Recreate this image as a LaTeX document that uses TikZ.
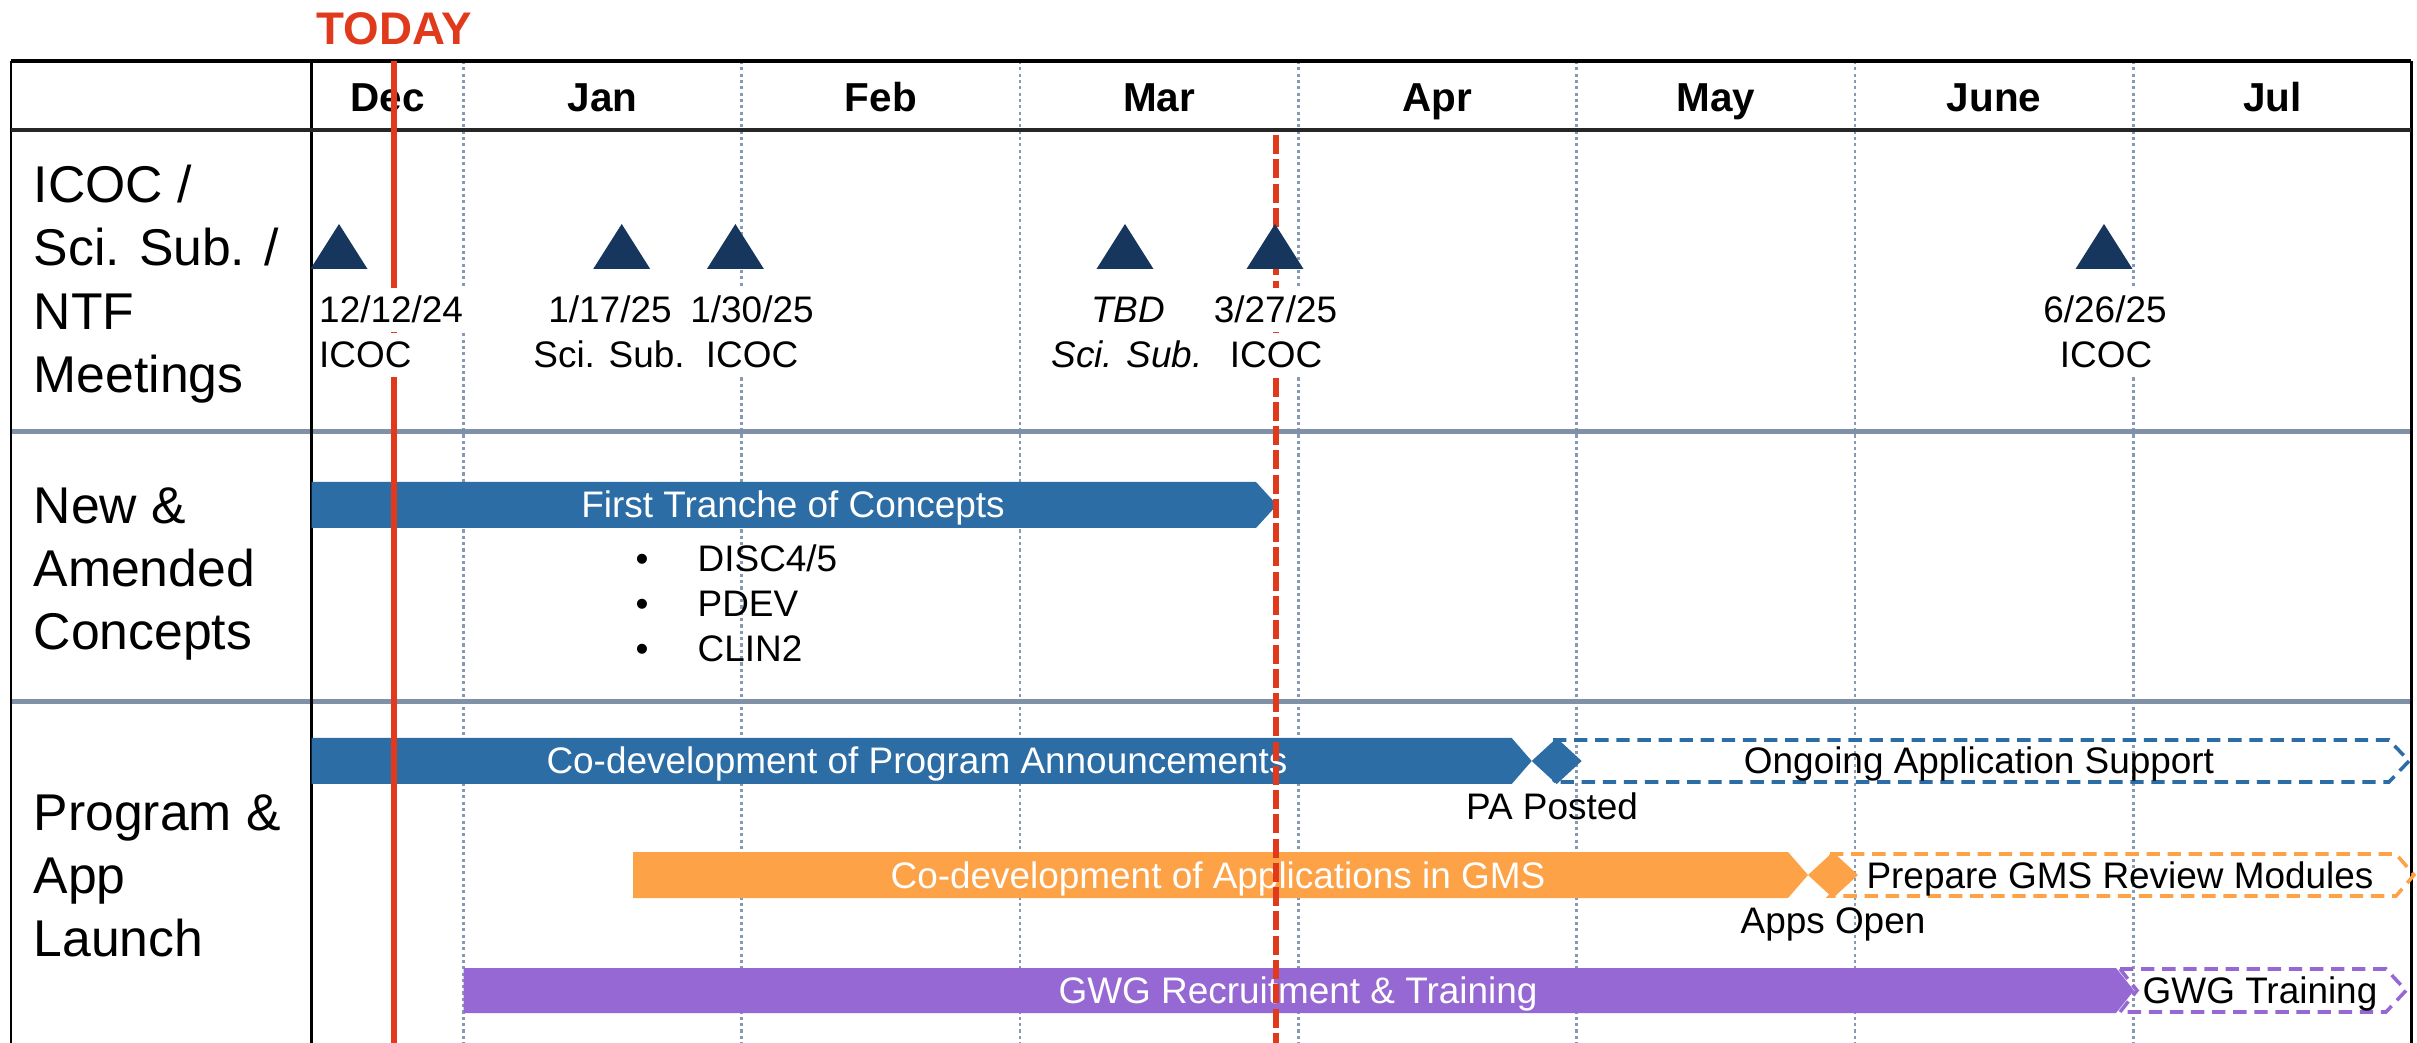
\documentclass[tikz,border=0pt]{standalone}
\usepackage{fontspec}
\setmainfont{Liberation Sans}
\usepackage{xcolor}
\usepackage{tikz}
\usetikzlibrary{calc}

\definecolor{barblue}{HTML}{2D6DA6}
\definecolor{barorange}{HTML}{FDA246}
\definecolor{barpurple}{HTML}{9668D3}
\definecolor{todayred}{HTML}{E0391C}
\definecolor{navy}{HTML}{17365D}
\definecolor{gridgray}{HTML}{8899B3}
\definecolor{rulegray}{HTML}{8090A6}

\begin{document}
\begin{tikzpicture}[x=0.01cm,y=-0.01cm]
  \tikzstyle{month} = [font=\fontsize{11.5}{13}\selectfont\bfseries,anchor=base,inner sep=0pt]
  \tikzstyle{rowlabel} = [font=\fontsize{14.7}{18}\selectfont,align=left,anchor=west,inner sep=0pt]
  \tikzstyle{date} = [font=\fontsize{10.5}{12}\selectfont,anchor=base,fill=white,inner sep=1pt,text height=9pt,text depth=1.5pt]
  \tikzstyle{bartext} = [font=\fontsize{10.5}{12}\selectfont,anchor=base,text=white,inner sep=0pt]
  \tikzstyle{plain} = [font=\fontsize{10.5}{12}\selectfont,anchor=base,inner sep=0pt]
  \tikzstyle{meeting} = [fill=navy]
  \tikzstyle{dotgrid} = [gridgray,line width=0.75pt,dash pattern=on 0.9pt off 0.9pt]
  \tikzstyle{later} = [line width=1pt,dash pattern=on 3.8pt off 2.2pt]
  \tikzstyle{redline} = [todayred,line width=1.7pt]
  %
  \useasboundingbox[fill=white] (0,0) rectangle (2417,1043);
  % Month grid.
  \foreach \x in {463.5,741.8,1020.1,1298.4,1576.7,1855,2133.3}
    \draw[dotgrid] (\x,61) -- (\x,1043);
  % Table frame and row rules.
  \draw[rulegray,line width=1.4pt] (11,431.5) -- (2411,431.5) (11,701.5) -- (2411,701.5);
  \draw[line width=0.85pt] (11,61) -- (11,1043) (311.6,61) -- (311.6,1043) (2411,61) -- (2411,1043);
  \draw[line width=1.1pt] (11,61) -- (2411,61);
  \draw[black!85,line width=1.3pt] (11,130) -- (2411,130);
  % Header.
  \foreach \mon/\xc in {Dec/387.5,Jan/602.6,Feb/880.9,Mar/1159.2,Apr/1437.5,May/1715.8,June/1994.1,Jul/2272.4}
    \node[month] (\mon) at (\xc,112) {\mon};
  % Row labels.
  \node[rowlabel] (meetings) at (33,284) {ICOC /\\Sci. Sub. /\\NTF\\Meetings};
  \node[rowlabel] (concepts) at (33,574) {New \&\\Amended\\Concepts};
  \node[rowlabel] (launch) at (33,876) {Program \&\\App\\Launch};

  % Second row.
  \fill[barblue] (311.6,482) -- (1256,482) -- (1277,505) -- (1256,528) -- (311.6,528) -- cycle;
  \node[bartext] (tranche) at (793,518) {First Tranche of Concepts};
  \node[plain] (b1) at (642,572) {•};
  \node[plain] (b2) at (642,617) {•};
  \node[plain] (b3) at (642,662) {•};
  \node[plain,anchor=base west] (disc) at (697,572) {DISC4/5};
  \node[plain,anchor=base west] (pdev) at (697,617) {PDEV};
  \node[plain,anchor=base west] (clin) at (697,662) {CLIN2};

  % Third row.
  \draw[barblue,later] (1553,740) -- (2389,740) -- (2409,761) -- (2389,782) -- (1553,782) -- (1574,761) -- cycle;
  \fill[barblue] (311.6,738) -- (1511.7,738) -- (1531.7,761) -- (1511.7,784) -- (311.6,784) -- cycle;
  \fill[barblue] (1531.7,761) -- (1556.7,738) -- (1581.7,761) -- (1556.7,784) -- cycle;
  \node[bartext] (codevpa) at (917,774) {Co-development of Program Announcements};
  \node[plain] (ongoing) at (1979,774) {Ongoing Application Support};
  \node[plain] (posted) at (1552,820) {PA Posted};

  \draw[barorange,later] (1830,854) -- (2396,854) -- (2414,875) -- (2396,896) -- (1830,896) -- (1851,875) -- cycle;
  \fill[barorange] (633,852) -- (1788,852) -- (1808,875) -- (1788,898) -- (633,898) -- cycle;
  \fill[barorange] (1808,875) -- (1833,852) -- (1858,875) -- (1833,898) -- cycle;
  \node[bartext] (codevapp) at (1218,888) {Co-development of Applications in GMS};
  \node[plain] (prepare) at (2120,888) {Prepare GMS Review Modules};
  \node[plain] (appsopen) at (1833,933) {Apps Open};

  \fill[barpurple] (463.5,968) -- (2116,968) -- (2134,990.5) -- (2116,1013) -- (463.5,1013) -- cycle;
  \draw[barpurple,later] (2120,969) -- (2386,969) -- (2406,990.5) -- (2386,1012) -- (2120,1012) -- (2137,990.5) -- cycle;
  \node[bartext] (gwg) at (1298,1003.5) {GWG Recruitment \& Training};
  \node[plain] (gwgtrain) at (2260,1003.5) {GWG Training};

  % Today and deadline.
  \node[font=\fontsize{13}{15}\selectfont\bfseries,text=todayred,anchor=base,inner sep=0pt] (today) at (394,45) {TODAY};
  \draw[redline] (394,61) -- (394,1043);
  \draw[redline,dash pattern=on 5.4pt off 1.5pt] (1276,135) -- (1276,1043);

  % First row.
  \foreach \x in {339,621.7,735.4,1125,1275,2104}
    \fill[meeting] (\x-28.5,269) -- (\x,224) -- (\x+28.5,269) -- cycle;
  \node[date,anchor=base west] (d1) at (315,323) {12/12/24};
  \node[date,anchor=base west] (d1b) at (315,368) {ICOC};
  \node[date] (d2) at (610,323) {1/17/25};
  \node[date] (d2b) at (609,368) {Sci. Sub.};
  \node[date] (d3) at (752,323) {1/30/25};
  \node[date] (d3b) at (752,368) {ICOC};
  \node[date] (d4) at (1128,323) {\itshape TBD};
  \node[date] (d4b) at (1127,368) {\itshape Sci. Sub.};
  \node[date] (d5) at (1275.5,323) {3/27/25};
  \node[date] (d5b) at (1276,368) {ICOC};
  \node[date] (d6) at (2105,323) {6/26/25};
  \node[date] (d6b) at (2106,368) {ICOC};
\end{tikzpicture}
\end{document}
